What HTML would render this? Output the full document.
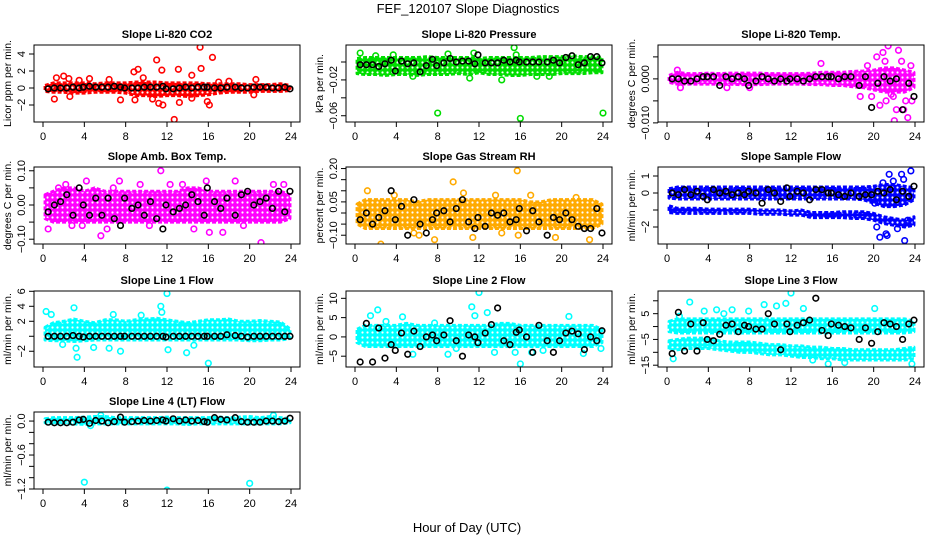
<!DOCTYPE html>
<html><head><meta charset="utf-8"><style>
html,body{margin:0;padding:0;background:#fff;}
svg{display:block;font-family:"Liberation Sans",sans-serif;}
</style></head><body>
<svg id="chart" width="936" height="540" viewBox="0 0 936 540" xmlns="http://www.w3.org/2000/svg">
<defs id="defs"></defs>
<rect width="936" height="540" fill="#fff"/>
<text x="468" y="13" font-size="13" text-anchor="middle">FEF_120107  Slope Diagnostics</text>
<text x="467" y="532" font-size="13" text-anchor="middle">Hour of Day (UTC)</text>
</svg>
<script>
const blackX=[0.5,1.1,1.7,2.3,2.9,3.5,3.9,4.5,5.1,5.7,6.3,6.9,7.5,7.9,8.6,9.2,9.8,10.4,11.0,11.6,11.9,12.6,13.2,13.8,14.4,15.0,15.6,15.9,16.6,17.2,17.8,18.6,19.2,19.8,20.4,21.0,21.6,22.2,22.8,23.4,23.9];
const bandX=[0.2,1,2,3,4,5,6,7,8,9,10,11,12,13,14,15,16,17,18,19,20,21,22,23,23.9];
const xTicks=[0,4,8,12,16,20,24];

const co2Black=[-0.1,0,0,0,0.1,0,0.1,0.2,0.1,0.1,0.1,0.2,0.1,0,0,0,0.1,0.1,0.1,0.2,-0.1,-0.1,0,0.1,0,0.1,0.1,0.1,0,0,0.1,0.1,0,0,0.1,0.1,0.1,0,0,0.1,-0.1];
const co2Lo=[-0.4,-0.5,-0.5,-0.6,-0.6,-0.5,-0.5,-0.5,-0.6,-0.9,-0.9,-1,-0.9,-0.9,-1,-0.9,-0.8,-0.6,-0.5,-0.5,-0.5,-0.4,-0.4,-0.4,-0.3];
const co2Hi=[0.3,0.6,0.6,0.6,0.6,0.5,0.6,0.6,0.6,0.7,0.7,0.7,0.6,0.6,0.6,0.6,0.5,0.5,0.5,0.5,0.4,0.4,0.4,0.5,0.3];
const co2OutX=[1.1,1.3,2,2.6,2.5,3.5,4.5,6.4,7.5,8.9,8.8,9.2,9.7,10.6,11,11.2,11.6,11.5,12.7,13.1,13.2,14.4,14.4,15.2,15.3,15.9,16.1,16.4,17,18,20.6,20.4];
const co2OutY=[-1.3,1.2,1.4,-1,1.1,0.9,1.1,1,-1.4,-1.4,1.9,2.2,1.2,-1.3,3.3,-1.8,-2,2.1,-3.7,2.2,-1.7,1.5,-1.2,4.8,2.3,-1.6,-2,3.6,0.7,0.8,1,-0.8];

const presBlack=[-0.003,-0.003,-0.003,-0.005,-0.002,0.002,-0.01,0.001,-0.002,-0.001,-0.011,-0.004,0.003,-0.004,-0.001,0.004,0,0.001,0.001,-0.002,0.008,-0.001,-0.001,-0.001,0.002,0,0.002,0,0,0,0,0,0.002,-0.001,0.005,0.007,-0.003,-0.001,0.006,0.006,-0.001];
const presLo=[-0.013,-0.014,-0.014,-0.015,-0.014,-0.014,-0.015,-0.014,-0.014,-0.014,-0.013,-0.014,-0.012,-0.014,-0.014,-0.015,-0.015,-0.014,-0.014,-0.014,-0.013,-0.013,-0.013,-0.012,-0.012];
const presHi=[0.004,0.005,0.005,0.005,0.005,0.005,0.005,0.006,0.005,0.005,0.005,0.005,0.004,0.005,0.005,0.005,0.005,0.005,0.006,0.006,0.006,0.007,0.006,0.006,0.005];
const presOutX=[0.5,3.7,8,9,11.5,15.4,16,24,14.2,11.1,5.6,17.6,18.8,15.6,2];
const presOutY=[0.01,0.008,-0.057,0.009,0.01,0.016,-0.063,-0.057,-0.02,-0.018,-0.016,-0.016,-0.016,0.008,0.007];

const tempBlack=[0,0,-0.0005,-0.0005,0,0.0005,0.0005,0.0005,-0.0015,0.0005,0,0.0005,0,-0.0015,-0.0005,0.0005,0,-0.0005,0,-0.0005,0,0,-0.0005,0,0.0005,0.0005,0.0005,0.0005,0,0.0005,0.0005,-0.0015,0.0005,-0.0065,-0.001,0.0005,-0.0005,0,-0.007,-0.001,-0.004];
const tempLo=[-0.0008,-0.0012,-0.0012,-0.0012,-0.0012,-0.0012,-0.0012,-0.0013,-0.0013,-0.0013,-0.0012,-0.0012,-0.0012,-0.0012,-0.0013,-0.0013,-0.0015,-0.0015,-0.0018,-0.002,-0.0025,-0.003,-0.003,-0.003,-0.002];
const tempHi=[0.0008,0.0015,0.0012,0.0012,0.0013,0.0012,0.0013,0.0013,0.0013,0.0013,0.0012,0.0012,0.0012,0.0012,0.0013,0.0015,0.0015,0.0015,0.0017,0.0018,0.002,0.0025,0.0025,0.002,0.0015];
const tempOutX=[20.9,21.4,22.4,21.7,22,23.3,22.9,19.8,21.2,18.7,14.9,1,1.3,8,5.8,23.6,23.7,20.3,22.2,21.1,20.6,22.7,23.1,19.4,21.9];
const tempOutY=[0.006,0.0075,0.0065,-0.0035,-0.0095,-0.0088,-0.007,-0.004,-0.005,-0.004,0.0035,0.002,-0.002,-0.002,-0.002,0.003,-0.005,0.005,-0.007,0.004,-0.006,0.004,-0.005,0.003,-0.004];

const ambBlack=[-0.02,0.0,0.01,0.03,-0.03,0.05,0.0,-0.03,0.02,-0.03,0.02,-0.04,-0.06,0.02,-0.01,0.0,-0.03,0.01,-0.04,-0.07,0.0,-0.02,-0.01,0.0,0.03,0.01,-0.03,0.05,0.01,-0.01,0.02,-0.03,0.03,0.04,0.0,0.01,0.02,-0.01,0.04,-0.02,0.04];
const ambLo=[-0.04,-0.05,-0.05,-0.05,-0.05,-0.05,-0.05,-0.05,-0.05,-0.05,-0.05,-0.05,-0.05,-0.05,-0.05,-0.05,-0.05,-0.05,-0.05,-0.05,-0.05,-0.05,-0.05,-0.05,-0.04];
const ambHi=[0.03,0.04,0.05,0.05,0.04,0.05,0.04,0.04,0.04,0.04,0.04,0.04,0.04,0.04,0.05,0.05,0.04,0.04,0.04,0.04,0.04,0.04,0.04,0.04,0.03];
const ambOutX=[0.5,1.5,2.2,2.8,3.8,4.2,5.6,6.2,7.4,9.4,11.4,12.3,14.6,15.8,16.1,17.4,18.6,19.4,21.1,22.3,23.3,10.3,13.5,6.8];
const ambOutY=[-0.07,0.05,0.06,-0.06,-0.06,0.07,-0.09,-0.07,0.07,0.06,0.1,0.06,-0.07,0.07,-0.08,-0.08,0.07,-0.06,-0.11,0.06,0.06,-0.06,0.06,0.05];

const rhBlack=[-0.03,0.0,-0.05,-0.02,0.01,0.10,-0.03,0.03,-0.10,0.06,-0.05,-0.09,-0.03,0.0,0.01,-0.04,0.02,0.06,-0.04,-0.07,-0.02,-0.06,0.0,-0.01,0.0,-0.04,-0.03,0.02,-0.08,0.01,-0.04,-0.1,-0.02,-0.03,0.0,-0.03,-0.06,-0.07,-0.07,0.02,-0.09];
const rhLo=[-0.05,-0.07,-0.07,-0.07,-0.07,-0.07,-0.07,-0.07,-0.07,-0.07,-0.07,-0.07,-0.07,-0.07,-0.07,-0.07,-0.07,-0.07,-0.07,-0.07,-0.07,-0.07,-0.07,-0.07,-0.05];
const rhHi=[0.04,0.06,0.06,0.06,0.06,0.06,0.05,0.06,0.06,0.06,0.06,0.06,0.06,0.06,0.06,0.06,0.06,0.05,0.05,0.06,0.06,0.06,0.06,0.06,0.04];
const rhOutX=[1.2,2.5,3.8,5.7,7.7,9.5,10.5,11.4,13.6,15.7,15.8,17,19.4,21.4,22.7,14.2,6.2];
const rhOutY=[0.1,-0.14,0.08,-0.09,-0.12,0.14,0.09,-0.11,0.08,0.19,-0.1,0.08,-0.11,0.07,-0.12,-0.09,-0.1];

const flowBlack=[0,-0.1,0.2,-0.1,0.1,-0.2,-0.4,0.2,0,0.1,-0.1,0,-0.1,0.1,0,-0.6,0.2,0,-0.5,0.3,-0.2,0.1,0,-0.4,0.2,0.2,0,0,-0.1,-0.2,0,-0.2,-0.1,-0.1,0.1,0,0.2,-0.4,0.1,-0.2,0.4];
const flowLo=[-0.3,-0.35,-0.35,-0.35,-0.35,-0.35,-0.35,-0.35,-0.35,-0.35,-0.35,-0.35,-0.35,-0.35,-0.35,-0.35,-0.35,-0.35,-0.35,-0.4,-0.6,-0.8,-0.8,-0.7,-0.4];
const flowHi=[0.25,0.35,0.35,0.35,0.35,0.35,0.35,0.35,0.35,0.35,0.35,0.35,0.35,0.35,0.35,0.35,0.35,0.35,0.35,0.35,0.4,0.5,0.5,0.4,0.3];
const flow2Lo=[-1.15,-1.2,-1.2,-1.2,-1.2,-1.2,-1.2,-1.2,-1.2,-1.25,-1.25,-1.25,-1.3,-1.3,-1.45,-1.45,-1.45,-1.45,-1.5,-1.5,-1.6,-1.8,-1.9,-2.0,-1.9];
const flow2Hi=[-0.75,-0.9,-0.9,-0.9,-0.95,-0.95,-0.95,-0.95,-0.95,-1.0,-1.0,-1.0,-1.05,-1.0,-1.15,-1.15,-1.15,-1.1,-1.1,-1.1,-1.2,-1.4,-1.5,-1.6,-1.4];
const flowOutX=[20.3,20.6,20.9,21.2,21.5,21.9,22.3,22.7,23.0,23.3,23.6,22.9,21.3,20.1];
const flowOutY=[-2.0,-2.6,0.6,-2.4,1.1,0.7,-2.1,1.1,-2.8,-1.6,1.3,0.8,-2.5,-0.6];

const l1Black=[0,0,0,0,0.1,0,-0.1,0,0,0,0,0,0,0,0,0,0,0,0,0,-0.1,0,0,0,0,0,0,0,0,0,0.2,0.1,0,-0.1,0,0,0,0,0,0,0];
const l1Lo=[-0.5,-0.6,-0.6,-0.7,-0.6,-0.5,-0.5,-0.5,-0.5,-0.5,-0.5,-0.5,-0.5,-0.5,-0.5,-0.5,-0.5,-0.5,-0.5,-0.5,-0.6,-0.6,-0.5,-0.5,-0.3];
const l1Hi=[1.2,1.8,2.0,2.3,2.0,1.8,2.2,2.2,2.0,2.2,2.3,2.4,2.2,2.0,1.8,2.0,2.2,2.2,2.3,2.0,2.0,2.1,2.0,1.9,1.0];
const l1OutX=[0.3,0.8,3,3.3,3.2,4.9,6.4,6.8,7.5,11.4,11.5,12,12.1,13.9,14.6,16,1.9,9.5];
const l1OutY=[3.3,2.9,3.8,-2.8,-1.6,-1.5,-1.6,2.9,-2,4,3.2,5.7,-1.8,-2.2,-1.2,-3.6,-1.1,2.8];

const l2Black=[-6.5,3.5,-6.5,2.3,-5.5,-2,-3.5,1,-4.5,1.5,-2.5,0,0.5,-1,0.5,4.2,-1,-5,0.5,0,-1.5,1,3.2,7.5,-1,-2,1.2,1.8,0,-4,3,-1,-4,-1,1,1.5,0.8,-3.3,0,-1,1.6];
const l2Lo=[-1.5,-2.5,-2.5,-2.5,-2.5,-2.5,-2.5,-2.5,-2.5,-2.5,-2.5,-2.5,-2.5,-2.5,-2.5,-2.5,-2.5,-2.5,-2.5,-2.5,-2.5,-2.5,-2.5,-2.5,-1.5];
const l2Hi=[2,3,3,3,3,3.5,3,3,3,3,3,3,3,3,3.5,3.5,3,3,3,3,3,3,3,3,2];
const l2OutX=[1.5,2.2,3,4.6,5.6,7.7,9,9.8,11.3,11.6,12,12.8,15.5,16,17.1,18.2,20.7,22.1,23.8,13.5];
const l2OutY=[5.5,7,4,5.2,-4.5,3.6,-4.5,-3,7.8,5.5,11.5,6.3,-4,-7,-4,-3.5,5.3,-4.3,-3,-4];

const l3Black=[-10.5,5.5,-9.5,1,-9.5,1.5,-5,-5.5,-3,0.5,1,-2,0.5,0,-1,-1,5,1,-9,1,-2,0.5,1.5,2.5,11,-1.5,-3.5,1,0.5,0,-0.5,-5,-0.5,-6.5,-2,1.5,1,0,-5,1,2.5];
const l3Lo=[-2,-2.5,-2.5,-2.5,-2.5,-2.5,-2.5,-2.5,-2.5,-2.5,-2.5,-2.5,-2.5,-2.5,-2.5,-2.5,-2.5,-2.5,-2.5,-2.5,-2.5,-2.5,-2.5,-2.5,-2];
const l3Hi=[2,3,3,3,3,3,3,3,3,3,3,3,3,3,3,3,3,3,3,3,3,3,3,3,2];
const l3bLo=[-9,-9,-8.5,-8.5,-8.5,-9,-9.5,-10,-10,-10.5,-11,-11,-11.5,-12,-12,-12.5,-12.5,-13,-13,-13,-13,-13,-13,-13,-12.5];
const l3bHi=[-5.5,-5,-4.5,-4.5,-4.5,-5.5,-6,-6,-6,-6.5,-7,-7,-7.5,-7.5,-8,-8,-8.5,-8.5,-9,-9,-9,-9,-9,-8.5,-8];
const l3OutX=[0.6,1.2,2.2,3.6,4.8,6.3,7.9,9.4,10.6,11.5,12.0,14.1,15.6,17.2,20.1,23.7,5.5,13.2];
const l3OutY=[-12.5,4,9.5,6,6.5,6.5,6,8.5,8,9,13,-13,-14.5,-14,7,-14.5,5,7];

const l4Black=[-0.02,-0.03,-0.03,-0.03,-0.02,0.02,0.03,-0.04,0.01,0.0,-0.03,-0.01,0.07,-0.02,-0.01,0.0,0.01,0.0,0.01,0.02,0.0,0.04,0.0,0.02,0.0,0.01,-0.01,-0.02,0.06,0.03,0.02,0.06,-0.01,-0.02,-0.02,-0.02,0.0,0.0,-0.01,0.0,0.05];
const l4Lo=[-0.03,-0.05,-0.05,-0.05,-0.06,-0.05,-0.05,-0.05,-0.05,-0.05,-0.05,-0.05,-0.05,-0.05,-0.06,-0.05,-0.05,-0.05,-0.05,-0.05,-0.05,-0.05,-0.05,-0.05,-0.03];
const l4Hi=[0.04,0.06,0.06,0.06,0.07,0.08,0.08,0.06,0.06,0.06,0.06,0.06,0.07,0.06,0.06,0.06,0.06,0.07,0.06,0.07,0.08,0.06,0.08,0.06,0.04];
const l4OutX=[4,12,20,5.6,22.3,4.6];
const l4OutY=[-1.08,-1.22,-1.1,0.1,0.1,-0.08];

const panels=[
 {name:'co2',title:'Slope Li-820 CO2',ylab:'Licor ppm per min.',col:0,row:0,ymin:-4.0,ymax:5.06,color:'#ff0000',ticks:[[4,'4'],[2,'2'],[0,'0'],[-2,'-2']],black:co2Black,bands:[[co2Lo,co2Hi]],ox:co2OutX,oy:co2OutY},
 {name:'pressure',title:'Slope Li-820 Pressure',ylab:'kPa per min.',col:1,row:0,ymin:-0.067,ymax:0.019,color:'#00dd00',ticks:[[0,''],[-0.02,'-0.02'],[-0.04,''],[-0.06,'-0.06']],black:presBlack,bands:[[presLo,presHi]],ox:presOutX,oy:presOutY},
 {name:'temp',title:'Slope Li-820 Temp.',ylab:'degrees C per min.',col:2,row:0,ymin:-0.0098,ymax:0.0077,color:'#ff00ff',ticks:[[0.005,''],[0,'0.000'],[-0.005,''],[-0.010,'-0.010']],black:tempBlack,bands:[[tempLo,tempHi]],ox:tempOutX,oy:tempOutY},
 {name:'amb-box-temp',title:'Slope Amb. Box Temp.',ylab:'degrees C per min.',col:0,row:1,ymin:-0.114,ymax:0.111,color:'#ff00ff',ticks:[[0.1,'0.10'],[0.05,''],[0,'0.00'],[-0.05,''],[-0.1,'-0.10']],black:ambBlack,bands:[[ambLo,ambHi]],ox:ambOutX,oy:ambOutY},
 {name:'gas-stream-rh',title:'Slope Gas Stream RH',ylab:'percent per min.',col:1,row:1,ymin:-0.1395,ymax:0.207,color:'#ffaa00',ticks:[[0.2,'0.20'],[0.15,''],[0.1,''],[0.05,'0.05'],[0,''],[-0.05,''],[-0.1,'-0.10']],black:rhBlack,bands:[[rhLo,rhHi]],ox:rhOutX,oy:rhOutY},
 {name:'sample-flow',title:'Slope Sample Flow',ylab:'ml/min per min.',col:2,row:1,ymin:-3.0,ymax:1.53,color:'#0000ff',ticks:[[1,'1'],[0,'0'],[-1,''],[-2,'-2']],black:flowBlack,bands:[[flowLo,flowHi],[flow2Lo,flow2Hi]],ox:flowOutX,oy:flowOutY},
 {name:'line1-flow',title:'Slope Line 1 Flow',ylab:'ml/min per min.',col:0,row:2,ymin:-4.1,ymax:6.04,color:'#00ffff',ticks:[[6,'6'],[4,'4'],[2,'2'],[0,''],[-2,'-2']],black:l1Black,bands:[[l1Lo,l1Hi]],ox:l1OutX,oy:l1OutY},
 {name:'line2-flow',title:'Slope Line 2 Flow',ylab:'ml/min per min.',col:1,row:2,ymin:-7.8,ymax:11.9,color:'#00ffff',ticks:[[10,'10'],[5,'5'],[0,'0'],[-5,'-5']],black:l2Black,bands:[[l2Lo,l2Hi]],ox:l2OutX,oy:l2OutY},
 {name:'line3-flow',title:'Slope Line 3 Flow',ylab:'ml/min per min.',col:2,row:2,ymin:-15.7,ymax:13.8,color:'#00ffff',ticks:[[10,''],[5,'5'],[0,''],[-5,'-5'],[-10,''],[-15,'-15']],black:l3Black,bands:[[l3Lo,l3Hi],[l3bLo,l3bHi]],ox:l3OutX,oy:l3OutY},
 {name:'line4-flow',title:'Slope Line 4 (LT) Flow',ylab:'ml/min per min.',col:0,row:3,ymin:-1.2,ymax:0.16,color:'#00ffff',ticks:[[0,'0.0'],[-0.2,''],[-0.4,''],[-0.6,'-0.6'],[-0.8,''],[-1.0,''],[-1.2,'-1.2']],black:l4Black,bands:[[l4Lo,l4Hi]],ox:l4OutX,oy:l4OutY}
];

const colL=[34,346,658], colR=[300,612,924];
const rowT=[45,167,291,412], rowB=[122,244,367,489];
const svg=document.getElementById('chart');
const defs=document.getElementById('defs');
const NS='http://www.w3.org/2000/svg';
function mk(tag,attrs,parent){const e=document.createElementNS(NS,tag);for(const k in attrs)e.setAttribute(k,attrs[k]);parent.appendChild(e);return e;}

const patMade={};
function pattern(color){
  const id='pat'+color.replace('#','');
  if(!patMade[id]){
    const pt=mk('pattern',{id:id,width:5,height:5,patternUnits:'userSpaceOnUse'},defs);
    mk('rect',{x:0,y:0,width:5,height:5,fill:color},pt);
    mk('circle',{cx:2.5,cy:2.5,r:1.1,fill:'#fff'},pt);
    patMade[id]=true;
  }
  return 'url(#'+id+')';
}

panels.forEach(p=>{
  const L=colL[p.col],R=colR[p.col],T=rowT[p.row],B=rowB[p.row];
  const x0=L+9,x1=R-9;
  const sx=v=>x0+(v/24)*(x1-x0);
  const sy=v=>B-(v-p.ymin)/(p.ymax-p.ymin)*(B-T);
  const g=mk('g',{},svg);
  
  
  const clipId='clip-'+p.name;
  const cp=mk('clipPath',{id:clipId},g);
  mk('rect',{x:L,y:T,width:R-L,height:B-T},cp);
  const marks=mk('g',{'clip-path':'url(#'+clipId+')'},g);
  
  
  const pf=pattern(p.color);
  p.bands.forEach((b,bi)=>{
    let pts=[];
    for(let i=0;i<bandX.length;i++)pts.push(sx(bandX[i])+','+sy(b[1][i]));
    for(let i=bandX.length-1;i>=0;i--)pts.push(sx(bandX[i])+','+sy(b[0][i]));
    const poly=mk('polygon',{points:pts.join(' '),fill:pf,stroke:p.color,'stroke-width':3,'stroke-linejoin':'round','stroke-dasharray':'4 2'},marks);
    
    
  });
  for(let i=0;i<Math.min(p.ox.length,p.oy.length);i++){
    const c=mk('circle',{cx:sx(p.ox[i]),cy:sy(p.oy[i]),r:2.8,fill:'none',stroke:p.color,'stroke-width':1.6},marks);
    
    
  }
  for(let i=0;i<Math.min(blackX.length,p.black.length);i++){
    const c=mk('circle',{cx:sx(blackX[i]),cy:sy(p.black[i]),r:2.8,fill:'none',stroke:'#000','stroke-width':1.6},marks);
    
    
  }
  const box=mk('rect',{x:L,y:T,width:R-L,height:B-T,fill:'none',stroke:'#000','stroke-width':1},g);
  
  
  const t=mk('text',{x:(L+R)/2,y:T-7,'font-size':11,'font-weight':'bold','text-anchor':'middle'},g);
  t.textContent=p.title;
  
  
  const yl=mk('text',{x:0,y:0,'font-size':10.5,'text-anchor':'middle',transform:'translate('+(L-23)+','+((T+B)/2)+') rotate(-90)'},g);
  yl.textContent=p.ylab;
  
  
  const xa=mk('g',{},g);
  
  
  mk('line',{x1:sx(xTicks[0]),x2:sx(xTicks[xTicks.length-1]),y1:B,y2:B,stroke:'#000'},xa);
  xTicks.forEach(v=>{
    mk('line',{x1:sx(v),x2:sx(v),y1:B,y2:B+5,stroke:'#000'},xa);
    const tl=mk('text',{x:sx(v),y:B+18,'font-size':11,'text-anchor':'middle'},xa);
    tl.textContent=v;
    
    
  });
  const ya=mk('g',{},g);
  
  
  const tv=p.ticks.map(d=>d[0]);
  mk('line',{x1:L,x2:L,y1:sy(Math.max(...tv)),y2:sy(Math.min(...tv)),stroke:'#000'},ya);
  p.ticks.forEach(d=>{
    mk('line',{x1:L-5,x2:L,y1:sy(d[0]),y2:sy(d[0]),stroke:'#000'},ya);
    if(d[1]){
      const tl=mk('text',{x:0,y:0,'font-size':11,'text-anchor':'middle',transform:'translate('+(L-9)+','+sy(d[0])+') rotate(-90)'},ya);
      tl.textContent=d[1].replace('-','\u2212');
      
      
    }
  });
});
</script>
</body></html>
